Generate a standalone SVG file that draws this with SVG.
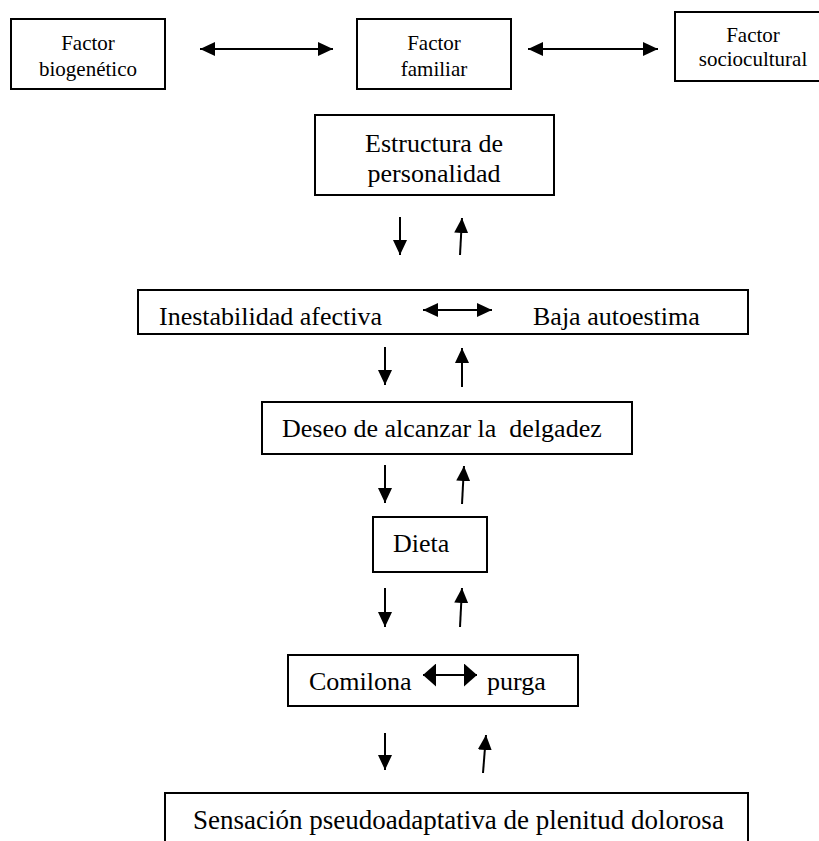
<svg xmlns="http://www.w3.org/2000/svg" width="819" height="841" viewBox="0 0 819 841">
<style>
.box{fill:#fff;stroke:#000;stroke-width:2}
.t{font-family:"Liberation Serif","Times New Roman",serif;font-size:26px;fill:#000}
.s{font-family:"Liberation Serif","Times New Roman",serif;font-size:21px;fill:#000;text-anchor:middle}
.ln{stroke:#000;stroke-width:2;fill:none}
.a{marker-end:url(#ah)}
.d{marker-start:url(#ah);marker-end:url(#ah)}
.D{marker-start:url(#ahB);marker-end:url(#ahB)}
</style>
<defs>
<marker id="ah" markerUnits="userSpaceOnUse" markerWidth="15" markerHeight="14" refX="15" refY="7" orient="auto-start-reverse" viewBox="0 0 15 14"><path d="M0,0 L15,7 L0,14 z" fill="#000"/></marker>
<marker id="ahB" markerUnits="userSpaceOnUse" markerWidth="13" markerHeight="23" refX="13" refY="11.5" orient="auto-start-reverse" viewBox="0 0 13 23"><path d="M0,0 L13,11.5 L0,23 z" fill="#000"/></marker>
</defs>
<rect width="819" height="841" fill="#fff"/>
<g id="biogenetico"><rect class="box" x="11" y="19" width="154" height="70"/><text class="s" x="88" y="50">Factor</text><text class="s" x="88" y="76">biogenético</text></g>
<g id="familiar"><rect class="box" x="357" y="19" width="154" height="70"/><text class="s" x="434" y="50">Factor</text><text class="s" x="434" y="76">familiar</text></g>
<g id="sociocultural"><rect class="box" x="675" y="12" width="160" height="69"/><text class="s" x="753" y="42">Factor</text><text class="s" x="753" y="66">sociocultural</text></g>
<g id="estructura"><rect class="box" x="315" y="115" width="239" height="80"/><text class="t" x="434" y="152" text-anchor="middle">Estructura de</text><text class="t" x="434" y="182" text-anchor="middle">personalidad</text></g>
<g id="inestabilidad"><rect class="box" x="138" y="290" width="610" height="44"/><text class="t" x="159" y="325">Inestabilidad afectiva</text><text class="t" x="533" y="325">Baja autoestima</text></g>
<g id="deseo"><rect class="box" x="262" y="402" width="370" height="52"/><text class="t" x="282" y="437" xml:space="preserve">Deseo de alcanzar la  delgadez</text></g>
<g id="dieta"><rect class="box" x="373" y="517" width="114" height="55"/><text class="t" x="393" y="552">Dieta</text></g>
<g id="comilona"><rect class="box" x="288" y="655" width="290" height="51"/><text class="t" x="309" y="690">Comilona</text><text class="t" x="487" y="690">purga</text></g>
<g id="sensacion"><rect class="box" x="165" y="793" width="583" height="70"/><text class="t" x="193" y="829" style="font-size:27px">Sensación pseudoadaptativa de plenitud dolorosa</text></g>
<g id="connectors">
<line class="ln d" x1="200" y1="49" x2="333" y2="49"/>
<line class="ln d" x1="528" y1="49" x2="658" y2="49"/>
<line class="ln d" x1="423" y1="310" x2="492" y2="310"/>
<line class="ln D" x1="423" y1="675" x2="477" y2="675"/>
<line class="ln a" x1="400" y1="217" x2="400" y2="255"/>
<line class="ln a" x1="460" y1="255" x2="462" y2="218"/>
<line class="ln a" x1="385" y1="347" x2="385" y2="385"/>
<line class="ln a" x1="462" y1="387" x2="462" y2="348"/>
<line class="ln a" x1="385" y1="465" x2="385" y2="503"/>
<line class="ln a" x1="462" y1="504" x2="464" y2="466"/>
<line class="ln a" x1="385" y1="588" x2="385" y2="627"/>
<line class="ln a" x1="460" y1="627" x2="462" y2="588"/>
<line class="ln a" x1="385" y1="733" x2="385" y2="770"/>
<line class="ln a" x1="483" y1="773" x2="486" y2="735"/>
</g>
</svg>
